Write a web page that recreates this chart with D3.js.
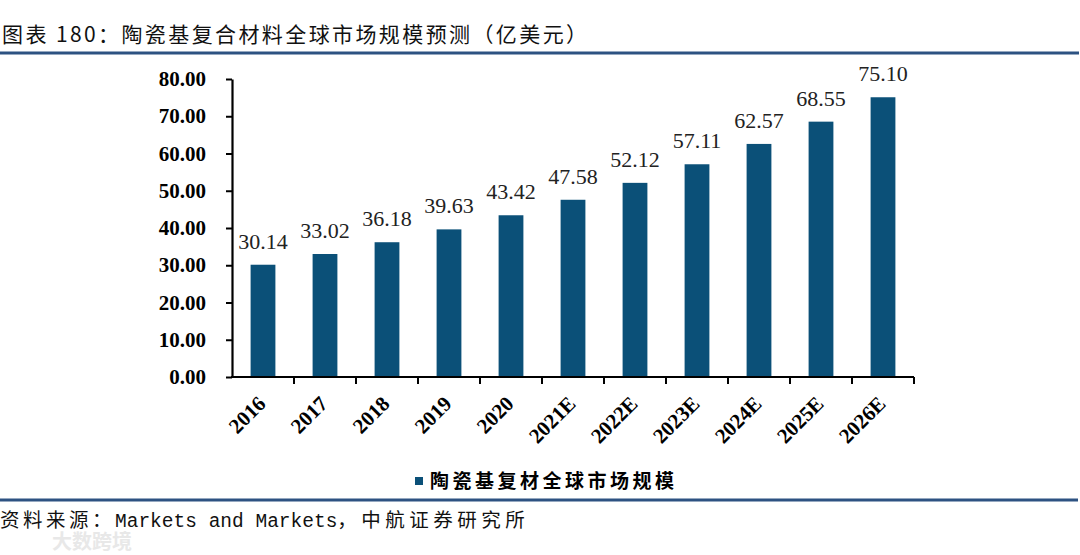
<!doctype html>
<html>
<head>
<meta charset="utf-8"/>
<title>陶瓷基复合材料全球市场规模预测</title>
<script src="https://d3js.org/d3.v7.min.js"></script>
<style>
  body { margin: 0; background: #fff; }
  svg { display: block; }
</style>
</head>
<body>
<div id="chart"></div>
<script>
// 数据
var years = ["2016", "2017", "2018", "2019", "2020", "2021E", "2022E", "2023E", "2024E", "2025E", "2026E"];
var marketSize = [30.14, 33.02, 36.18, 39.63, 43.42, 47.58, 52.12, 57.11, 62.57, 68.55, 75.10];
var yTicks = [0, 10, 20, 30, 40, 50, 60, 70, 80];
var seriesName = "陶瓷基复材全球市场规模";

var W = 1080, H = 555;
var barColor = "#0b5078";
var lineColor = "#2d5282";
var cjk = "'Noto Sans CJK SC', sans-serif";
var serif = "'Liberation Serif', 'Times New Roman', serif";

var svg = d3.select("#chart")
  .append("svg")
  .attr("width", W)
  .attr("height", H);

// 标题
svg.append("text")
  .attr("x", 2)
  .attr("y", 42)
  .attr("font-family", cjk)
  .attr("font-size", 21)
  .attr("letter-spacing", 2.4)
  .attr("fill", "#111")
  .text("图表 180：陶瓷基复合材料全球市场规模预测（亿美元）");

svg.append("rect")
  .attr("x", 0).attr("y", 51.5)
  .attr("width", 1079).attr("height", 3)
  .attr("fill", lineColor);

svg.append("rect")
  .attr("x", 0).attr("y", 498.5)
  .attr("width", 1078).attr("height", 3)
  .attr("fill", lineColor);

// 水印
svg.append("text")
  .attr("x", 52)
  .attr("y", 549)
  .attr("font-family", cjk)
  .attr("font-size", 20)
  .attr("font-weight", "bold")
  .attr("fill", "#e8e8e8")
  .text("大数跨境");

// 来源
var src = svg.append("text")
  .attr("x", 0)
  .attr("y", 527)
  .attr("font-size", 19.5)
  .attr("fill", "#111");
src.append("tspan").attr("font-family", cjk).attr("letter-spacing", 3.5).text("资料来源：");
src.append("tspan").attr("font-family", "'Liberation Mono', monospace").text("Markets and Markets");
src.append("tspan").attr("font-family", cjk).attr("letter-spacing", 4.5).text("，中航证券研究所");

var plotLeft = 232, plotRight = 914, plotTop = 79, plotBottom = 377;

var x = d3.scaleBand()
  .domain(years)
  .range([plotLeft, plotRight])
  .paddingInner(0.6)
  .paddingOuter(0.3);

var y = d3.scaleLinear()
  .domain([0, 80])
  .range([plotBottom, plotTop]);

// 柱子
svg.selectAll(".bar")
  .data(marketSize)
  .enter()
  .append("rect")
  .attr("class", "bar")
  .attr("x", function(d, i) { return x(years[i]); })
  .attr("y", function(d) { return y(d); })
  .attr("width", x.bandwidth())
  .attr("height", function(d) { return plotBottom - y(d); })
  .attr("fill", barColor);

// 数据标签
svg.selectAll(".lbl")
  .data(marketSize)
  .enter()
  .append("text")
  .attr("class", "lbl")
  .attr("x", function(d, i) { return x(years[i]) + x.bandwidth() / 2; })
  .attr("y", function(d) { return y(d) - 16; })
  .attr("text-anchor", "middle")
  .attr("font-family", serif)
  .attr("font-size", 22)
  .attr("fill", "#222")
  .text(function(d) { return d.toFixed(2); });

// y轴
var yAxis = d3.axisLeft(y)
  .tickValues(yTicks)
  .tickSize(6)
  .tickSizeOuter(0)
  .tickPadding(20)
  .tickFormat(function(d) { return d.toFixed(2); });

var gy = svg.append("g")
  .attr("transform", "translate(" + plotLeft + ",0)")
  .call(yAxis);
gy.select(".domain").attr("stroke", "#000").attr("stroke-width", 2.2);
gy.selectAll(".tick line").attr("stroke", "#000").attr("stroke-width", 2);
gy.selectAll(".tick text")
  .attr("font-family", serif)
  .attr("font-weight", "bold")
  .attr("font-size", 21)
  .attr("fill", "#000");

// x轴
var gx = svg.append("g")
  .attr("transform", "translate(0," + plotBottom + ")");
gx.append("line")
  .attr("x1", plotLeft - 1).attr("x2", plotRight)
  .attr("y1", 0).attr("y2", 0)
  .attr("stroke", "#000").attr("stroke-width", 2.2);

var step = x.step();
var bounds = years.map(function(d) { return x(d) + x.bandwidth() + step * 0.3; });
gx.selectAll(".xt")
  .data(bounds)
  .enter()
  .append("line")
  .attr("x1", function(d) { return d; })
  .attr("x2", function(d) { return d; })
  .attr("y1", 0).attr("y2", 7)
  .attr("stroke", "#000").attr("stroke-width", 2);

gx.selectAll(".xl")
  .data(years)
  .enter()
  .append("text")
  .attr("transform", function(d) {
    return "translate(" + (x(d) + x.bandwidth() / 2 + 4) + ",28) rotate(-45)";
  })
  .attr("text-anchor", "end")
  .attr("font-family", serif)
  .attr("font-weight", "bold")
  .attr("font-size", 21)
  .attr("fill", "#000")
  .text(function(d) { return d; });

// 图例
svg.append("rect")
  .attr("x", 415).attr("y", 477)
  .attr("width", 8).attr("height", 8)
  .attr("fill", barColor);
svg.append("text")
  .attr("x", 430)
  .attr("y", 488)
  .attr("font-family", cjk)
  .attr("font-weight", "bold")
  .attr("font-size", 19)
  .attr("letter-spacing", 3.5)
  .attr("fill", "#000")
  .text(seriesName);
</script>
</body>
</html>
